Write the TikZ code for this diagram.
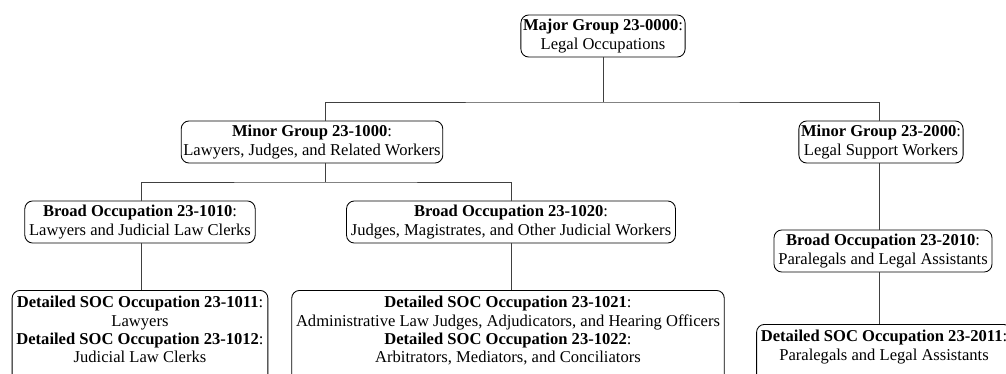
\documentclass[tikz,border=0pt]{standalone}
\usepackage{fontspec}
\setmainfont{Liberation Serif}
\begin{document}
\begin{tikzpicture}[x=0.7pt,y=-0.7pt,
  box/.style={draw, rounded corners=5.5pt, line width=0.6pt, align=center, inner xsep=1.5pt, inner ysep=3pt, font=\fontsize{11.6}{12.9}\selectfont},
  detbox/.style={box, anchor=north, inner ysep=4pt, inner xsep=3pt},
  conn/.style={draw, line width=0.6pt, color=black!75}]
\useasboundingbox (0,0) rectangle (1006,374);
\clip (0,0) rectangle (1006,374);
\node[box] (major) at (603,36) {\textbf{Major Group 23-0000}:\\Legal Occupations};
\node[box] (minA) at (312,142) {\textbf{Minor Group 23-1000}:\\Lawyers, Judges, and Related Workers};
\node[box] (minB) at (881,142) {\textbf{Minor Group 23-2000}:\\Legal Support Workers};
\node[box, inner xsep=3pt] (brA) at (140,222) {\textbf{Broad Occupation 23-1010}:\\Lawyers and Judicial Law Clerks};
\node[box, inner xsep=3pt] (brB) at (511,222) {\textbf{Broad Occupation 23-1020}:\\Judges, Magistrates, and Other Judicial Workers};
\node[box, inner xsep=3pt] (brC) at (883,251) {\textbf{Broad Occupation 23-2010}:\\Paralegals and Legal Assistants};
\node[detbox, text depth=14pt] (detA) at (140,290) {\textbf{Detailed SOC Occupation 23-1011}:\\Lawyers\\\textbf{Detailed SOC Occupation 23-1012}:\\Judicial Law Clerks};
\node[detbox, text depth=14pt] (detB) at (508,290) {\textbf{Detailed SOC Occupation 23-1021}:\\Administrative Law Judges, Adjudicators, and Hearing Officers\\\textbf{Detailed SOC Occupation 23-1022}:\\Arbitrators, Mediators, and Conciliators};
\node[detbox, text depth=14pt] (detC) at (884,324) {\textbf{Detailed SOC Occupation 23-2011}:\\Paralegals and Legal Assistants};
\coordinate (jTop) at (603,102);
\coordinate (jMid) at (325,182);
\path[conn] (major.south) -- (jTop);
\path[conn] (minA.north -| jMid) |- (jTop) -| (minB.north -| 879,0);
\path[conn] (minA.south -| jMid) -- (jMid);
\path[conn] (brA.north -| 141,0) |- (jMid) -| (brB.north);
\path[conn] (brA.south -| 141,0) -- (detA.north -| 141,0);
\path[conn] (brB.south) -- (detB.north -| brB.south);
\path[conn] (minB.south -| 879,0) -- (brC.north -| 879,0);
\path[conn] (brC.south -| 879,0) -- (detC.north -| 879,0);
\end{tikzpicture}
\end{document}
